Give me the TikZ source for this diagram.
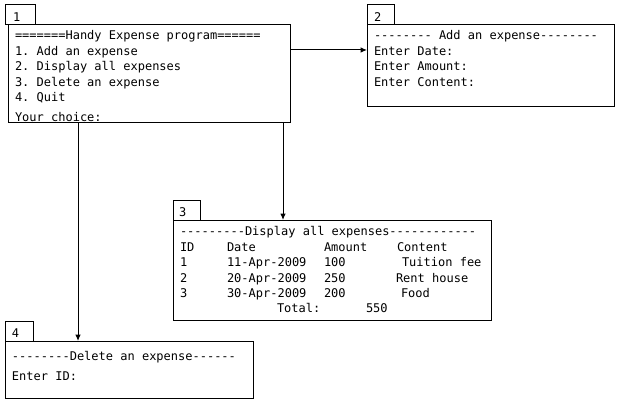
\documentclass[tikz,border=0pt]{standalone}
\usepackage{fontspec}
\setmonofont{DejaVu Sans Mono}
\usetikzlibrary{arrows.meta}
\begin{document}
\begin{tikzpicture}[x=1pt,y=-1pt,
  box/.style={draw,line width=1pt,inner sep=0,outer sep=0,anchor=north west},
  txt/.style={anchor=base west,inner sep=0,outer sep=0,font=\ttfamily\fontsize{12}{14}\selectfont},
  arr/.style={line width=1pt,-{Latex[length=6.5pt,width=5.5pt]}}]
\fill[white] (0,0) rectangle (621,409);
\useasboundingbox (0,0) rectangle (621,409);
% box 1
\node[box,minimum width=30pt,minimum height=20pt] (t1) at (5,5) {};
\node[box,minimum width=282pt,minimum height=98pt] (b1) at (8,25) {};
\node[txt] (t1l) at (13,21.5) {1};
\node[txt] (b1a) at (15,40) {=======Handy Expense program======};
\node[txt] (b1b) at (15,55.5) {1. Add an expense};
\node[txt] (b1c) at (15,71) {2. Display all expenses};
\node[txt] (b1d) at (15,86.5) {3. Delete an expense};
\node[txt] (b1e) at (15,102) {4. Quit};
\node[txt] (b1f) at (15,121.5) {Your choice:};
% box 2
\node[box,minimum width=27pt,minimum height=20pt] (t2) at (367,5) {};
\node[box,minimum width=247pt,minimum height=82pt] (b2) at (367,25) {};
\node[txt] (t2l) at (374,21.5) {2};
\node[txt] (b2a) at (374,39.5) {-------- Add an expense--------};
\node[txt] (b2b) at (374,55.5) {Enter Date:};
\node[txt] (b2c) at (374,71) {Enter Amount:};
\node[txt] (b2d) at (374,86.5) {Enter Content:};
% box 3
\node[box,minimum width=27pt,minimum height=20pt] (t3) at (173,200) {};
\node[box,minimum width=318pt,minimum height=100pt] (b3) at (173,220) {};
\node[txt] (t3l) at (179,216.5) {3};
\node[txt] (b3a) at (180,235.5) {---------Display all expenses------------};
\node[txt] (h1) at (180,251.5) {ID};
\node[txt] (h2) at (227,251.5) {Date};
\node[txt] (h3) at (324,251.5) {Amount};
\node[txt] (h4) at (397,251.5) {Content};
\node[txt] (r1a) at (180,266.5) {1};
\node[txt] (r1b) at (227,266.5) {11-Apr-2009};
\node[txt] (r1c) at (324,266.5) {100};
\node[txt] (r1d) at (402,266.5) {Tuition fee};
\node[txt] (r2a) at (180,282) {2};
\node[txt] (r2b) at (227,282) {20-Apr-2009};
\node[txt] (r2c) at (324,282) {250};
\node[txt] (r2d) at (396,282) {Rent house};
\node[txt] (r3a) at (180,297.5) {3};
\node[txt] (r3b) at (227,297.5) {30-Apr-2009};
\node[txt] (r3c) at (324,297.5) {200};
\node[txt] (r3d) at (401,297.5) {Food};
\node[txt] (tot) at (277,312.5) {Total:};
\node[txt] (totv) at (366,312.5) {550};
% box 4
\node[box,minimum width=28pt,minimum height=20pt] (t4) at (5,321) {};
\node[box,minimum width=248pt,minimum height=57pt] (b4) at (5,341) {};
\node[txt] (t4l) at (12,337.5) {4};
\node[txt] (b4a) at (12,360.5) {--------Delete an expense------};
\node[txt] (b4b) at (12,380.5) {Enter ID:};
% connectors
\coordinate (y12) at (0,50);
\coordinate (x13) at (283,0);
\coordinate (x14) at (78,0);
\draw[arr] (b1.east |- y12) -- (b2.west |- y12);
\draw[arr] (b1.south -| x13) -- (b3.north -| x13);
\draw[arr] (b1.south -| x14) -- (b4.north -| x14);
\end{tikzpicture}
\end{document}
